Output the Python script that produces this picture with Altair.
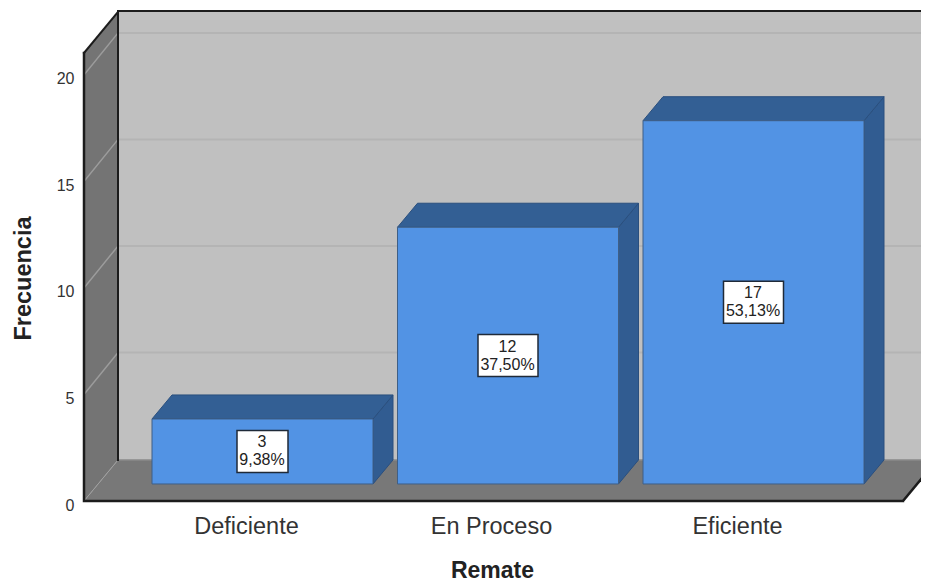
import altair as alt
import pandas as pd

categories = ["Deficiente", "En Proceso", "Eficiente"]
counts = [3, 12, 17]
percents = ["9,38%", "37,50%", "53,13%"]
y_ticks = [0, 5, 10, 15, 20]

W, YMAX = 837, 23.0
WALL_DX, WALL_DY = 34, 1.925
GRID_DY = 1.97
FLOOR_W = 819
WALL_TOP = 21.03
BAR_DX, BAR_DY = 20, 1.127
BAR_W, BAR_STEP, BAR_X0 = 221, 245.5, 68
BASE, LIFT = 0.8, 0.85

sx = alt.Scale(domain=[0, W], range=[0, W], nice=False, zero=False)
sy = alt.Scale(domain=[0, YMAX], nice=False, zero=False)
X = lambda f="x": alt.X(f"{f}:Q", scale=sx, axis=None)
Y = lambda f="y": alt.Y(f"{f}:Q", scale=sy, axis=None)


def line(points, color, width, clip=False):
    df = pd.DataFrame([{"x": x, "y": y, "i": i} for i, (x, y) in enumerate(points)])
    return draw_line(df.assign(g=0), color, width, clip)


def draw_line(df, color, width, clip=True):
    return alt.Chart(df).mark_line(color=color, strokeWidth=width, clip=clip, strokeCap="square").encode(
        x=X(), y=Y(), order="i:Q", detail="g:N"
    )


# Frame
left_wall = alt.Chart(pd.DataFrame({"x": [0, WALL_DX], "y": [0, WALL_DY], "y2": [WALL_TOP, WALL_TOP + WALL_DY]})).mark_area(
    color="#747474").encode(x=X(), y=Y(), y2="y2:Q")
back_wall = alt.Chart(pd.DataFrame({"x": [WALL_DX], "x2": [W], "y": [WALL_DY], "y2": [YMAX]})).mark_rect(
    color="#c0c0c0", clip=True).encode(x=X(), x2="x2:Q", y=Y(), y2="y2:Q")
floor = alt.Chart(pd.DataFrame({"y": [0, WALL_DY], "x": [0, WALL_DX], "x2": [FLOOR_W, FLOOR_W + WALL_DX]})).mark_area(
    color="#787878", orient="horizontal", clip=True).encode(y=Y(), x=X(), x2="x2:Q")

grid_left = pd.DataFrame(
    [{"x": x, "y": v + d, "i": i, "g": v} for v in y_ticks[1:] for i, (x, d) in enumerate([(0, 0), (WALL_DX, GRID_DY)])]
)
grid_back = pd.DataFrame(
    [{"x": x, "y": v + GRID_DY, "i": i, "g": v} for v in y_ticks[1:] for i, x in enumerate([WALL_DX, W])]
)
layers = [
    left_wall,
    back_wall,
    floor,
    draw_line(grid_left, "#9c9c9c", 1.5),
    draw_line(grid_back, "#b4b4b4", 2),
    line([(WALL_DX, WALL_DY), (W, WALL_DY)], "#8a8a8a", 1.5, True),
    line([(0, 0), (WALL_DX, WALL_DY)], "#a0a0a0", 1, True),
    line([(WALL_DX, WALL_DY), (WALL_DX, YMAX), (W, YMAX)], "#1c1c1c", 2),
    line([(0, WALL_TOP), (WALL_DX, WALL_TOP + WALL_DY)], "#1c1c1c", 2),
    line([(0, WALL_TOP), (0, 0), (FLOOR_W, 0)], "#1c1c1c", 2.5),
    line([(FLOOR_W, 0), (FLOOR_W + WALL_DX, WALL_DY)], "#1c1c1c", 2.5, True),
]

# Bars
bars = pd.DataFrame({"cat": categories, "v": counts, "pct": percents})
bars["x0"] = [BAR_X0 + BAR_STEP * i for i in range(len(bars))]
bars["x1"] = bars["x0"] + BAR_W
bars["top"] = bars["v"] + LIFT
bars["base"] = BASE
bars["cx"] = bars["x0"] + BAR_W / 2
bars["cy"] = (bars["top"] + BASE) / 2
half_w = bars["pct"].str.len().map(lambda n: 25.5 if n == 5 else 30)
bars["bx0"], bars["bx1"] = bars["cx"] - half_w, bars["cx"] + half_w
bars["by0"], bars["by1"] = bars["cy"] - 0.985, bars["cy"] + 0.985
bars["label"] = bars["v"].astype(str) + "\n" + bars["pct"]

top_rows, side_rows = [], []
for _, b in bars.iterrows():
    for k in (0, 1):
        top_rows.append({"cat": b["cat"], "y": b["top"] + k * BAR_DY, "x": b["x0"] + k * BAR_DX, "x2": b["x1"] + k * BAR_DX})
        side_rows.append({"cat": b["cat"], "x": b["x1"] + k * BAR_DX, "y": BASE + k * BAR_DY, "y2": b["top"] + k * BAR_DY})

layers += [
    alt.Chart(pd.DataFrame(side_rows)).mark_area(color="#315c91", stroke="#2a4f7e", strokeWidth=1).encode(
        x=X(), y=Y(), y2="y2:Q", detail="cat:N"),
    alt.Chart(pd.DataFrame(top_rows)).mark_area(color="#335f94", stroke="#2a4f7e", strokeWidth=1, orient="horizontal").encode(
        y=Y(), x=X(), x2="x2:Q", detail="cat:N"),
    alt.Chart(bars).mark_rect(color="#5293e4", stroke="#3f5f86", strokeWidth=1).encode(
        x=X("x0"), x2="x1:Q", y=Y("base"), y2="top:Q"),
    alt.Chart(bars).mark_rect(color="#ffffff", stroke="#1f2a38", strokeWidth=1.5).encode(
        x=X("bx0"), x2="bx1:Q", y=Y("by0"), y2="by1:Q"),
    alt.Chart(bars).mark_text(font="Liberation Sans", fontSize=16, color="#222222", lineBreak="\n", lineHeight=18,
                              baseline="middle", align="center", dy=-9, dx=-0.5).encode(
        x=X("cx"), y=Y("cy"), text="label:N"),
]

# Axes
label_pos = [162, 407, 653]
label_expr = "{" + ",".join(f"'{p}':'{c}'" for p, c in zip(label_pos, categories)) + "}[datum.value]"
axes = alt.Chart(pd.DataFrame({"x": label_pos, "y": [0, 0, 0]})).mark_point(opacity=0).encode(
    x=alt.X("x:Q", scale=sx, title="Remate",
            axis=alt.Axis(values=label_pos, labelExpr=label_expr, domain=False, ticks=False, grid=False,
                          labelFont="Liberation Sans", labelFontSize=23.5, labelColor="#333333", labelPadding=13,
                          labelOverlap=False,
                          titleFont="Liberation Sans", titleFontSize=23, titleFontWeight="bold", titleColor="#222222",
                          titleX=408, titleY=69, titleBaseline="middle")),
    y=alt.Y("y:Q", scale=sy, title="Frecuencia",
            axis=alt.Axis(values=y_ticks, domain=False, ticks=False, grid=False,
                          labelFont="Liberation Sans", labelFontSize=16, labelColor="#333333", labelPadding=10,
                          labelOffset=4,
                          titleFont="Liberation Sans", titleFontSize=23.5, titleFontWeight="bold", titleColor="#222222",
                          titleX=-61, titleY=267, titleBaseline="middle", titleAngle=270)),
)

chart = alt.layer(axes, *layers).resolve_axis(x="independent", y="independent").properties(
    width=W, height=490,
    padding={"left": 76, "top": 3, "right": 0, "bottom": 82},
    autosize=alt.AutoSizeParams(type="none"),
    background="#ffffff",
).configure_view(stroke=None)

chart.save("out.html", embed_options={"renderer": "svg", "actions": False})
